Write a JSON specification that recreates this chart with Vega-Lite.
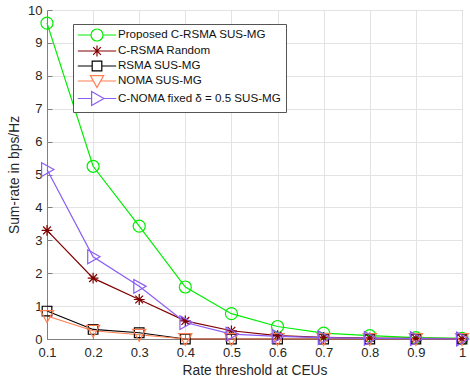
{
  "$schema": "https://vega.github.io/schema/vega-lite/v6.json",
  "autosize": "none",
  "width": 415,
  "height": 329,
  "padding": {"left": 47, "top": 10, "right": 8, "bottom": 42},
  "background": "white",
  "config": {
    "font": "Liberation Sans",
    "view": {"stroke": "#808080", "strokeWidth": 1},
    "axis": {
      "labelFont": "Liberation Sans", "labelFontSize": 13, "labelColor": "#262626",
      "titleFont": "Liberation Sans", "titleFontSize": 13.8, "titleFontWeight": "normal", "titleColor": "#262626",
      "domainColor": "#808080", "tickColor": "#808080", "gridColor": "#e3e3e3", "gridOpacity": 1
    }
  },
  "data": {"values": [
    {"threshold": 0.1, "method": "Proposed C-RSMA SUS-MG", "rate": 9.6},
    {"threshold": 0.2, "method": "Proposed C-RSMA SUS-MG", "rate": 5.25},
    {"threshold": 0.3, "method": "Proposed C-RSMA SUS-MG", "rate": 3.43},
    {"threshold": 0.4, "method": "Proposed C-RSMA SUS-MG", "rate": 1.58},
    {"threshold": 0.5, "method": "Proposed C-RSMA SUS-MG", "rate": 0.77},
    {"threshold": 0.6, "method": "Proposed C-RSMA SUS-MG", "rate": 0.38},
    {"threshold": 0.7, "method": "Proposed C-RSMA SUS-MG", "rate": 0.18},
    {"threshold": 0.8, "method": "Proposed C-RSMA SUS-MG", "rate": 0.1},
    {"threshold": 0.9, "method": "Proposed C-RSMA SUS-MG", "rate": 0.04},
    {"threshold": 1.0, "method": "Proposed C-RSMA SUS-MG", "rate": 0.02},
    {"threshold": 0.1, "method": "C-RSMA Random", "rate": 3.3},
    {"threshold": 0.2, "method": "C-RSMA Random", "rate": 1.85},
    {"threshold": 0.3, "method": "C-RSMA Random", "rate": 1.2},
    {"threshold": 0.4, "method": "C-RSMA Random", "rate": 0.55},
    {"threshold": 0.5, "method": "C-RSMA Random", "rate": 0.25},
    {"threshold": 0.6, "method": "C-RSMA Random", "rate": 0.1},
    {"threshold": 0.7, "method": "C-RSMA Random", "rate": 0.05},
    {"threshold": 0.8, "method": "C-RSMA Random", "rate": 0.03},
    {"threshold": 0.9, "method": "C-RSMA Random", "rate": 0.02},
    {"threshold": 1.0, "method": "C-RSMA Random", "rate": 0.01},
    {"threshold": 0.1, "method": "RSMA SUS-MG", "rate": 0.85},
    {"threshold": 0.2, "method": "RSMA SUS-MG", "rate": 0.29},
    {"threshold": 0.3, "method": "RSMA SUS-MG", "rate": 0.19},
    {"threshold": 0.4, "method": "RSMA SUS-MG", "rate": 0.0},
    {"threshold": 0.5, "method": "RSMA SUS-MG", "rate": 0.0},
    {"threshold": 0.6, "method": "RSMA SUS-MG", "rate": 0.0},
    {"threshold": 0.7, "method": "RSMA SUS-MG", "rate": 0.0},
    {"threshold": 0.8, "method": "RSMA SUS-MG", "rate": 0.0},
    {"threshold": 0.9, "method": "RSMA SUS-MG", "rate": 0.0},
    {"threshold": 1.0, "method": "RSMA SUS-MG", "rate": 0.0},
    {"threshold": 0.1, "method": "NOMA SUS-MG", "rate": 0.7},
    {"threshold": 0.2, "method": "NOMA SUS-MG", "rate": 0.25},
    {"threshold": 0.3, "method": "NOMA SUS-MG", "rate": 0.13},
    {"threshold": 0.4, "method": "NOMA SUS-MG", "rate": 0.0},
    {"threshold": 0.5, "method": "NOMA SUS-MG", "rate": 0.0},
    {"threshold": 0.6, "method": "NOMA SUS-MG", "rate": 0.0},
    {"threshold": 0.7, "method": "NOMA SUS-MG", "rate": 0.0},
    {"threshold": 0.8, "method": "NOMA SUS-MG", "rate": 0.0},
    {"threshold": 0.9, "method": "NOMA SUS-MG", "rate": 0.0},
    {"threshold": 1.0, "method": "NOMA SUS-MG", "rate": 0.0},
    {"threshold": 0.1, "method": "C-NOMA fixed δ = 0.5 SUS-MG", "rate": 5.15},
    {"threshold": 0.2, "method": "C-NOMA fixed δ = 0.5 SUS-MG", "rate": 2.5},
    {"threshold": 0.3, "method": "C-NOMA fixed δ = 0.5 SUS-MG", "rate": 1.6},
    {"threshold": 0.4, "method": "C-NOMA fixed δ = 0.5 SUS-MG", "rate": 0.5},
    {"threshold": 0.5, "method": "C-NOMA fixed δ = 0.5 SUS-MG", "rate": 0.15},
    {"threshold": 0.6, "method": "C-NOMA fixed δ = 0.5 SUS-MG", "rate": 0.08},
    {"threshold": 0.7, "method": "C-NOMA fixed δ = 0.5 SUS-MG", "rate": 0.04},
    {"threshold": 0.8, "method": "C-NOMA fixed δ = 0.5 SUS-MG", "rate": 0.02},
    {"threshold": 0.9, "method": "C-NOMA fixed δ = 0.5 SUS-MG", "rate": 0.01},
    {"threshold": 1.0, "method": "C-NOMA fixed δ = 0.5 SUS-MG", "rate": 0.0}
  ]},
  "encoding": {
    "x": {"field": "threshold", "type": "quantitative",
      "scale": {"domain": [0.1, 1], "nice": false, "zero": false},
      "axis": {"title": "Rate threshold at CEUs", "values": [0.1,0.2,0.3,0.4,0.5,0.6,0.7,0.8,0.9,1], "labelExpr": "format(datum.value, '.1~f')", "tickSize": -5, "labelPadding": 12, "titlePadding": 4, "labelFlush": false}},
    "y": {"field": "rate", "type": "quantitative",
      "scale": {"domain": [0, 10], "nice": false},
      "axis": {"title": "Sum-rate in bps/Hz", "values": [0,1,2,3,4,5,6,7,8,9,10], "tickSize": -5, "labelPadding": 10, "titlePadding": 6, "labelFlush": false}},
    "order": {"field": "threshold"}
  },
  "layer": [
    {"mark": {"type": "line", "strokeWidth": 1.2},
      "encoding": {"color": {"field": "method", "type": "nominal",
        "scale": {"domain": ["Proposed C-RSMA SUS-MG", "C-RSMA Random", "RSMA SUS-MG", "NOMA SUS-MG", "C-NOMA fixed δ = 0.5 SUS-MG"],
          "range": ["#00ee00", "#800000", "#000000", "#ff7f50", "#8a5cf5"]},
        "legend": null}}},
    {"mark": {"type": "point", "filled": false, "size": 144, "strokeWidth": 1.2, "opacity": 1},
      "encoding": {
        "color": {"field": "method", "type": "nominal", "legend": null},
        "shape": {"field": "method", "type": "nominal",
          "scale": {"domain": ["Proposed C-RSMA SUS-MG", "C-RSMA Random", "RSMA SUS-MG", "NOMA SUS-MG", "C-NOMA fixed δ = 0.5 SUS-MG"],
            "range": ["M1,0A1,1,0,1,1,-1,0A1,1,0,1,1,1,0Z", "M-0.9,0L0.9,0M0,-0.9L0,0.9M-0.65,-0.65L0.65,0.65M-0.65,0.65L0.65,-0.65", "M-0.8,-0.8L0.8,-0.8L0.8,0.8L-0.8,0.8Z", "M-1.1,-0.9L1.1,-0.9L0,1.1Z", "M-0.9,-1.15L1.15,0L-0.9,1.15Z"]},
          "legend": null
        }
      }
    },
    {"transform": [{"filter": "datum.rate > 100"}],
      "mark": {"type": "point", "filled": false, "size": 144, "strokeWidth": 1.2, "opacity": 1},
      "encoding": {
        "color": {"field": "method", "type": "nominal",
          "legend": {
            "title": null, "orient": "none", "legendX": 26, "legendY": 14,
            "strokeColor": "#555555", "fillColor": "white", "padding": 4,
            "symbolSize": 144, "symbolOffset": 13, "labelOffset": 14, "rowPadding": -1.5,
            "labelFont": "Liberation Sans", "labelFontSize": 11.6, "labelColor": "#111111", "labelLimit": 300,
            "symbolStrokeWidth": 1.2
          }},
        "shape": {"field": "method", "type": "nominal",
          "scale": {"domain": ["Proposed C-RSMA SUS-MG", "C-RSMA Random", "RSMA SUS-MG", "NOMA SUS-MG", "C-NOMA fixed δ = 0.5 SUS-MG"],
            "range": ["M-3.2,0L-1,0M1,0L3.2,0M1,0A1,1,0,1,1,-1,0A1,1,0,1,1,1,0Z", "M-3.2,0L3.2,0M0,-0.9L0,0.9M-0.65,-0.65L0.65,0.65M-0.65,0.65L0.65,-0.65", "M-3.2,0L-0.8,0M0.8,0L3.2,0M-0.8,-0.8L0.8,-0.8L0.8,0.8L-0.8,0.8Z", "M-3.2,0L-0.6,0M0.6,0L3.2,0M-1.1,-0.9L1.1,-0.9L0,1.1Z", "M-3.2,0L-0.9,0M1.15,0L3.2,0M-0.9,-1.15L1.15,0L-0.9,1.15Z"]},
          "legend": {
            "title": null, "orient": "none", "legendX": 26, "legendY": 14,
            "strokeColor": "#555555", "fillColor": "white", "padding": 4,
            "symbolSize": 144, "symbolOffset": 13, "labelOffset": 14, "rowPadding": -1.5,
            "labelFont": "Liberation Sans", "labelFontSize": 11.6, "labelColor": "#111111", "labelLimit": 300,
            "symbolStrokeWidth": 1.2
          }
        }
      }
    }
  ],
  "resolve": {"scale": {"shape": "independent"}, "legend": {"color": "independent", "shape": "independent"}}
}
